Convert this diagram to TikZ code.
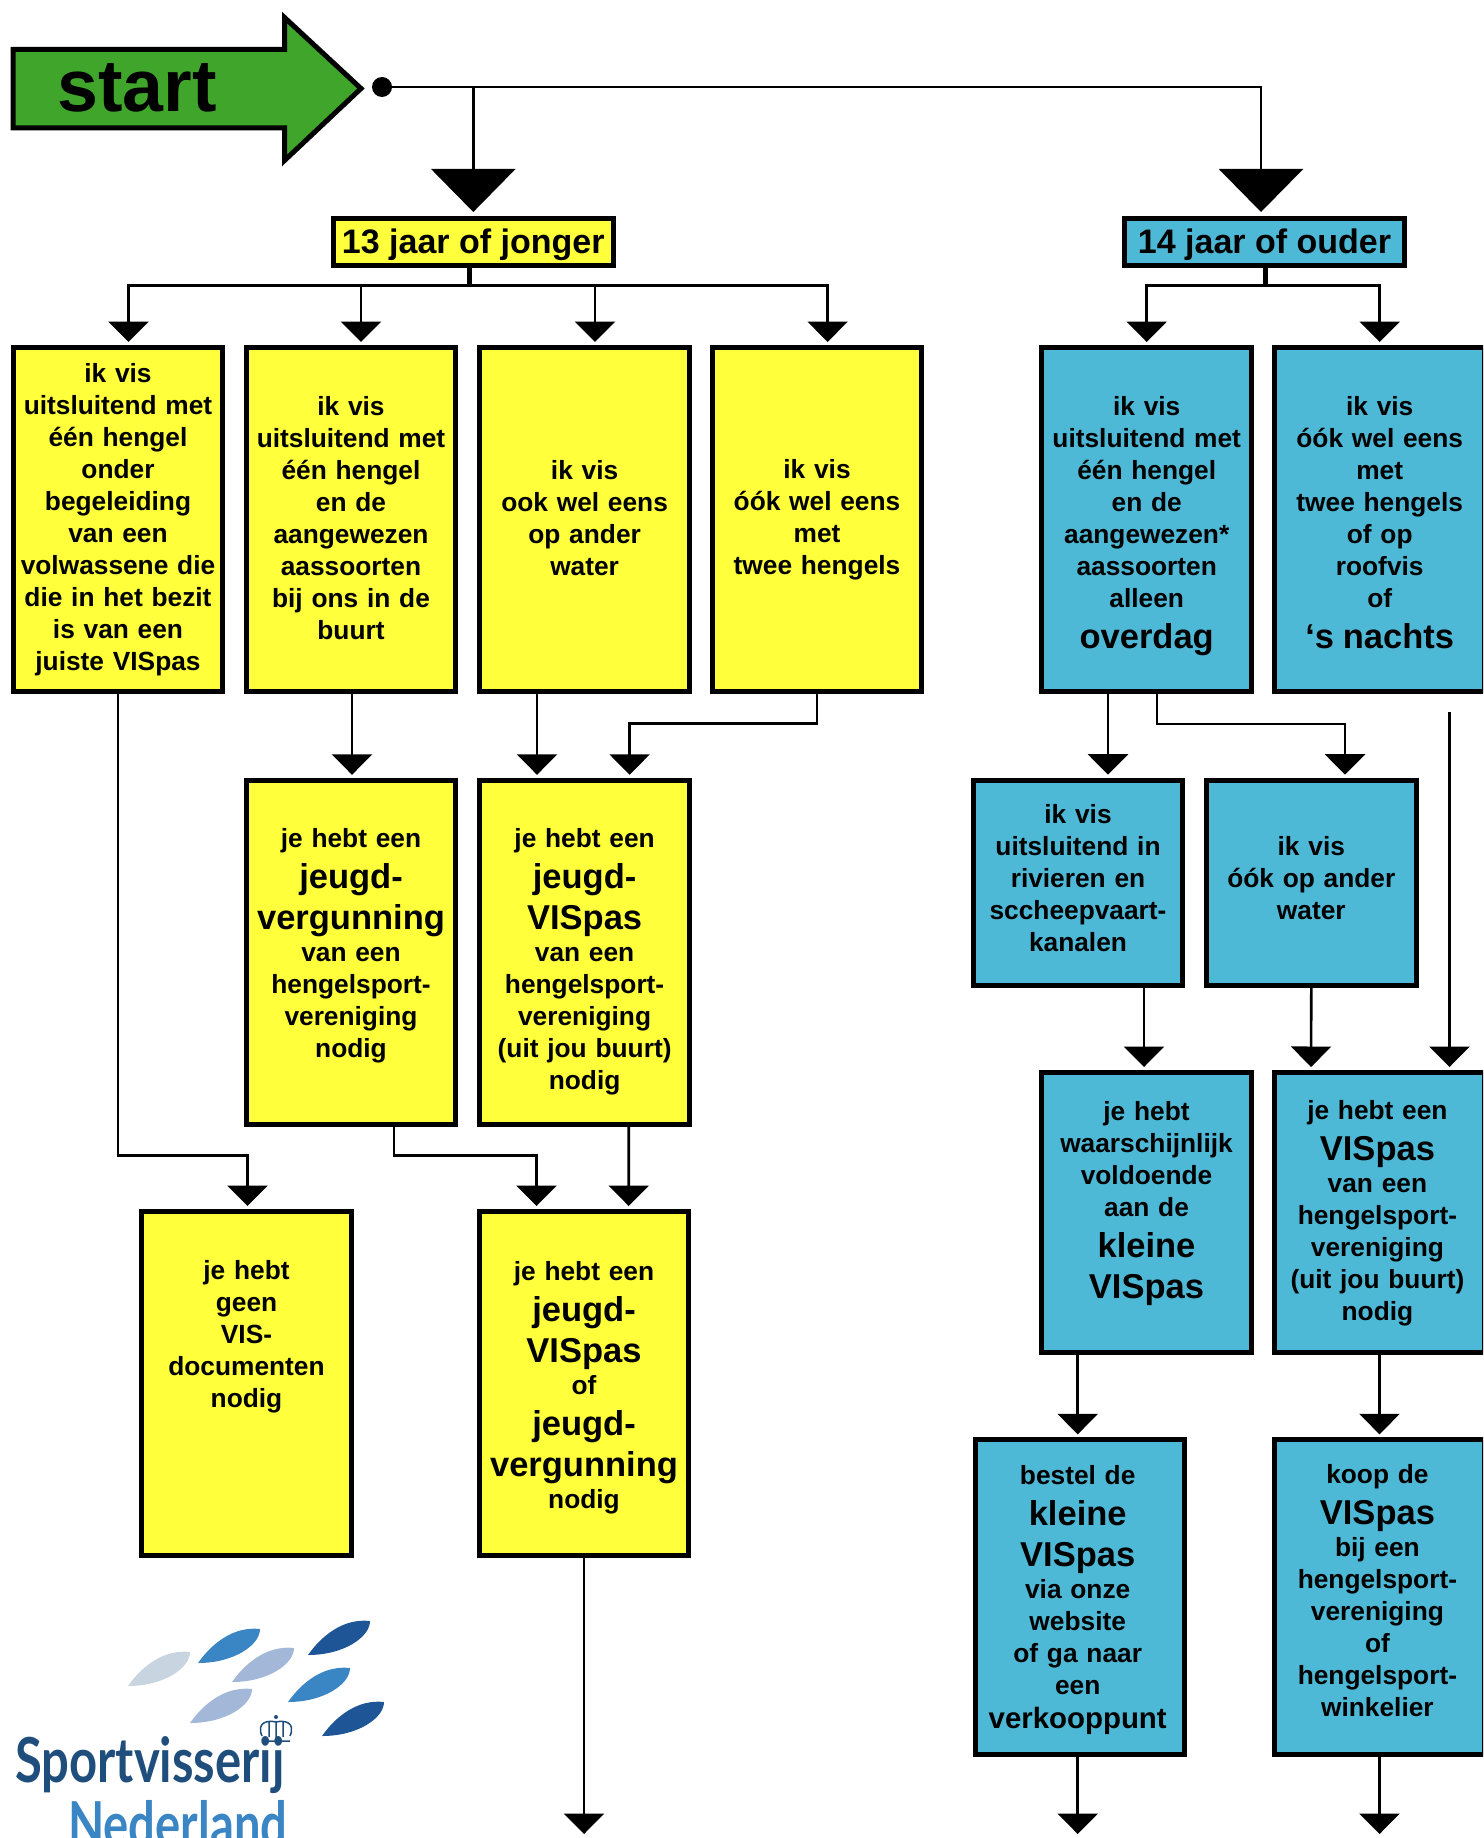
\documentclass[tikz,border=0pt]{standalone}
\usepackage{fontspec}
\setmainfont{Liberation Sans}
\newfontfamily\logofont{Lato}
\usetikzlibrary{arrows.meta}
\definecolor{vakgeel}{HTML}{FFFF3B}
\definecolor{vakblauw}{HTML}{4DB9D6}
\definecolor{startgroen}{HTML}{40A52B}
\definecolor{logodonker}{HTML}{1D5596}
\definecolor{logomidden}{HTML}{3A85C4}
\definecolor{logolicht}{HTML}{A3B7D8}
\definecolor{logogrijs}{HTML}{C8D4E0}
\definecolor{logotekst}{HTML}{1F4E7C}
\newcommand{\grootregel}[1]{\par{\fontsize{34.5}{41}\selectfont #1\par}}
\newcommand{\omlaag}[1]{\rule{0pt}{#1}}
\newcommand{\omhoog}[1]{\rule[-#1]{0pt}{#1}}
\newcommand{\tekstlinks}{\advance\rightskip 4.6pt\relax}
\tikzset{
  vak/.style={draw=black,line width=5pt,inner sep=0pt,text width=209.6pt,align=center,
              font=\fontsize{26.3}{32}\selectfont\bfseries},
  geelvak/.style={vak,fill=vakgeel},
  blauwvak/.style={vak,fill=vakblauw},
  kopvak/.style={draw=black,line width=5pt,inner sep=0pt,minimum height=47pt,text height=28pt,text depth=6pt,
                 font=\fontsize{34}{40}\selectfont\bfseries},
  pijl/.style={draw=black,line width=2.6pt,-{Triangle[length=20.5pt,width=40pt]},shorten >=3pt},
  grotepijl/.style={draw=black,line width=2.6pt,-{Triangle[length=43pt,width=84pt]},shorten >=4pt},
  pics/blad/.style={code={
    \fill[#1] (0,0) .. controls (14,-20) and (36,-37) .. (62,-34)
                    .. controls (62,-18) and (36,0) .. (0,0) -- cycle;}}
}
\begin{document}
\begin{tikzpicture}[x=1pt,y=-1pt]
\path[use as bounding box,clip] (0,0) rectangle (1483,1838);

\draw[line width=5pt,fill=startgroen,miter limit=10] (13,49.5) -- (284.5,49.5) -- (284.5,17.5) -- (361,88.5)
    -- (284.5,160.5) -- (284.5,128) -- (13,128) -- cycle;
\node[anchor=west,inner sep=0pt,font=\fontsize{73.5}{80}\selectfont\bfseries] (start) at (57,88) {start};
\node[circle,fill=black,inner sep=0pt,minimum size=20pt] (dot) at (382,87) {};

\node[kopvak,fill=vakgeel,minimum width=280.5pt] (jong) at (473.3,242) {13 jaar of jonger};
\node[kopvak,fill=vakblauw,minimum width=280pt] (oud) at (1264.5,242) {14 jaar of ouder};

\begin{scope}[every node/.append style={geelvak}]
    \node[minimum height=344pt] (vaka) at (118,519.5) {ik vis\\uitsluitend met\\één hengel\\onder\\begeleiding\\van een\\volwassene die\\die in het bezit\\is van een\\juiste VISpas};
    \node[minimum height=344pt] (vakb) at (351,519.5) {ik vis\\uitsluitend met\\één hengel\\en de\\aangewezen\\aassoorten\\bij ons in de\\buurt\omhoog{4pt}};
    \node[minimum height=344pt] (vakc) at (584.6,519.5) {ik vis\\ook wel eens\\op ander\\water\omhoog{4pt}};
    \node[minimum height=344pt] (vakd) at (817,519.5) {ik vis\\óók wel eens\\met\\twee hengels};
    \node[minimum height=344pt] (vergunning) at (351,952.3) {je hebt een\grootregel{jeugd-\\vergunning}van een\\hengelsport-\\vereniging\\nodig\omhoog{19.6pt}};
    \node[minimum height=344pt] (jeugdpas) at (584.6,952.3) {\omlaag{38pt}je hebt een\grootregel{jeugd-\\VISpas}van een\\hengelsport-\\vereniging\\(uit jou buurt)\\nodig};
    \node[minimum height=344pt] (geen) at (246.5,1383.5) {je hebt\\geen\\VIS-\\documenten\\nodig\omhoog{100pt}};
    \node[minimum height=344pt] (allebei) at (584,1383.5) {\omlaag{28pt}je hebt een\grootregel{jeugd-\\VISpas}of\grootregel{jeugd-\\vergunning}nodig};
\end{scope}

\begin{scope}[every node/.append style={blauwvak}]
    \node[minimum height=344pt] (vake) at (1146.7,519.5) {\omlaag{33pt}ik vis\\uitsluitend met\\één hengel\\en de\\aangewezen*\\aassoorten\\alleen\grootregel{overdag}};
    \node[minimum height=344pt] (vakf) at (1379.7,519.5) {\omlaag{26pt}ik vis\\óók wel eens\\met\\twee hengels\\of op\\roofvis\\of\grootregel{‘s nachts}};
    \node[minimum height=205.3pt] (rivier) at (1078,882.85) {ik vis\\uitsluitend in\\rivieren en\\sccheepvaart-\\kanalen\omhoog{10pt}};
    \node[minimum height=205.3pt] (water) at (1311.3,882.85) {ik vis\\óók op ander\\water\omhoog{9pt}};
    \node[minimum height=280.3pt] (kleinepas) at (1146.5,1212.65) {je hebt\\waarschijnlijk\\voldoende\\aan de\grootregel{kleine\\VISpas\omhoog{25pt}}};
    \node[minimum height=280.3pt] (vispas) at (1379.7,1212.65) {\tekstlinks\omlaag{21pt}je hebt een\grootregel{VISpas}van een\\hengelsport-\\vereniging\\(uit jou buurt)\\nodig\par};
    \node[minimum height=314.7pt] (bestel) at (1080,1597.2) {\tekstlinks\omlaag{24pt}bestel de\grootregel{kleine\\VISpas}via onze\\website\\of ga naar\\een\\[2pt]{\fontsize{29.4}{34}\selectfont verkooppunt}\par};
    \node[minimum height=314.7pt] (koop) at (1379.7,1597.2) {\tekstlinks koop de\grootregel{VISpas}bij een\\hengelsport-\\vereniging\\of\\hengelsport-\\winkelier\omhoog{14pt}\par};
\end{scope}

\coordinate (busjong) at (469,285.7);
\coordinate (busoud) at (1265,285.7);
\coordinate (losbegin) at (1449.5,711.7);
\coordinate (eindlinks) at (584,1837);
\coordinate (eindmidden) at (1077.7,1837);
\coordinate (eindrechts) at (1379.5,1837);

\path[grotepijl] (dot) -| (jong.north);
\path[grotepijl] (dot) -| ([xshift=-3.5pt]oud.north);

\draw[line width=5pt] ([xshift=-4.3pt]jong.south) -- (busjong);
\draw[line width=5pt] ([xshift=0.5pt]oud.south) -- (busoud);
\path[pijl] (busjong) -| ([xshift=10.5pt]vaka.north);
\path[pijl] (busjong) -| ([xshift=10pt]vakb.north);
\path[pijl] (busjong) -| ([xshift=10.4pt]vakc.north);
\path[pijl] (busjong) -| ([xshift=10.6pt]vakd.north);
\path[pijl] (busoud) -| (vake.north);
\path[pijl] (busoud) -| (vakf.north);

\path[pijl] ([xshift=1pt]vakb.south) -- ([xshift=1pt]vergunning.north);
\path[pijl] ([xshift=-47.6pt]vakc.south) -- ([xshift=-47.6pt]jeugdpas.north);
\path[pijl] (vakd.south) -- ++(0,29.5) -| ([xshift=45pt]jeugdpas.north);
\path[pijl] (vaka.south) -- ++(0,461.3) -| ([xshift=1pt]geen.north);
\path[pijl] ([xshift=42.8pt]vergunning.south) -- ++(0,28.6) -| ([xshift=-47.5pt]allebei.north);
\path[pijl] ([xshift=44.1pt]jeugdpas.south) -- ([xshift=44.7pt]allebei.north);
\path[pijl] (allebei.south) -- (eindlinks);

\path[pijl] ([xshift=-38.7pt]vake.south) -- ([xshift=30pt]rivier.north);
\path[pijl] ([xshift=10.3pt]vake.south) -- ++(0,30) -| ([xshift=33.7pt]water.north);
\path[pijl] (losbegin) -- ([xshift=69.8pt]vispas.north);
\path[pijl] ([xshift=66pt]rivier.south) -- ([xshift=-2.5pt]kleinepas.north);
\path[pijl] (water.south) -- ([xshift=-68.7pt]vispas.north);
\path[pijl] ([xshift=-2.3pt]bestel.north |- kleinepas.south) -- ([xshift=-2.3pt]bestel.north);
\path[pijl] ([xshift=-0.2pt]vispas.south) -- ([xshift=-0.2pt]koop.north);
\path[pijl] ([xshift=-2.3pt]bestel.south) -- (eindmidden);
\path[pijl] ([xshift=-0.2pt]koop.south) -- (eindrechts);

\foreach \xblad/\yblad/\kleur in {128/1686/logogrijs,198/1663/logomidden,308/1655/logodonker,232/1682/logolicht,288/1702/logomidden,190/1723/logolicht,322/1736/logodonker}
    \pic at (\xblad,\yblad) {blad=\kleur};

\draw[logotekst,line width=1.5pt] (262,1741) -- (290,1741) (262,1736) .. controls (256,1722) and (268,1720) .. (276,1722)
    .. controls (284,1720) and (296,1722) .. (290,1736) (276,1722) -- (276,1738) (269,1722) -- (269,1737) (283,1722) -- (283,1737);
\fill[logotekst] (276,1717) circle (2);

\node[anchor=base west,inner sep=0pt,xscale=0.79,font=\logofont\bfseries\fontsize{62}{62}\selectfont,text=logotekst] (sport) at (15,1782) {Sportvisserij};
\node[anchor=base west,inner sep=0pt,xscale=0.76,font=\logofont\bfseries\fontsize{62}{62}\selectfont,text=logomidden] (nederland) at (68,1846) {Nederland};
\end{tikzpicture}
\end{document}
